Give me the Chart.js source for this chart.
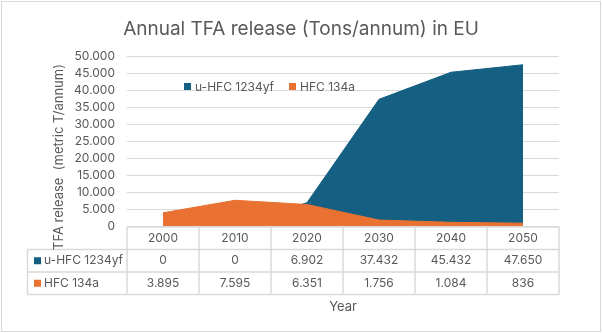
<!DOCTYPE html>
<html>
<head>
<meta charset="utf-8">
<script src="https://cdn.jsdelivr.net/npm/chart.js@4.4.1/dist/chart.umd.min.js"></script>
<style>
  html, body { margin: 0; padding: 0; background: #fff; }
  #wrap { width: 602px; height: 333px; }
</style>
</head>
<body>
<div id="wrap"><canvas id="myChart" width="602" height="333"></canvas></div>
<script>
// Chart data
var years = ['2000', '2010', '2020', '2030', '2040', '2050'];
var hfo1234yf = [0, 0, 6902, 37432, 45432, 47650];   // u-HFC 1234yf
var hfc134a = [3895, 7595, 6351, 1756, 1084, 836];  // HFC 134a
var seriesNames = ['u-HFC 1234yf', 'HFC 134a'];
var yMax = 50000;
var yStep = 5000;

var blue = '#156082';
var orange = '#E97132';
var textColor = '#595959';
var lineColor = '#D9D9D9';
var fontFamily = 'Inter, "Open Sans", sans-serif';

// 47650 -> "47.650"
function fmt(n) {
    return Math.round(n).toLocaleString('en-US').replace(/,/g, '.');
}

// Border, legend, data table and axis titles
var extras = {
    id: 'extras',
    beforeDraw: function(chart) {
        var ctx = chart.ctx;
        ctx.save();
        ctx.fillStyle = '#fff';
        ctx.fillRect(0, 0, chart.width, chart.height);
        ctx.restore();
    },
    afterDraw: function(chart) {
        var ctx = chart.ctx;
        var x = chart.scales.x;
        var area = chart.chartArea;
        var colors = [blue, orange];
        var rows = [hfo1234yf, hfc134a];

        ctx.save();
        // outer border
        ctx.strokeStyle = lineColor;
        ctx.lineWidth = 1;
        ctx.strokeRect(1.5, 1.5, chart.width - 3, chart.height - 3);

        // legend inside plot
        ctx.font = '12px ' + fontFamily;
        ctx.textBaseline = 'middle';
        ctx.textAlign = 'left';
        var lx = [184, 289];
        for (var i = 0; i < seriesNames.length; i++) {
            ctx.fillStyle = colors[i];
            ctx.fillRect(lx[i], 83, 7, 7);
            ctx.fillStyle = textColor;
            ctx.fillText(seriesNames[i], lx[i] + 11, 87);
        }

        // data table
        var half = (x.getPixelForValue(1) - x.getPixelForValue(0)) / 2;
        var top = area.bottom + 1;
        var rowH = 22.5;
        var labelLeft = 27.5;
        ctx.strokeStyle = lineColor;
        ctx.lineWidth = 1.5;
        ctx.beginPath();
        // horizontal lines
        ctx.moveTo(area.left, top);
        ctx.lineTo(area.right, top);
        for (var r = 1; r <= 3; r++) {
            ctx.moveTo(labelLeft, top + r * rowH);
            ctx.lineTo(area.right, top + r * rowH);
        }
        // vertical lines
        for (var c = 0; c <= years.length; c++) {
            var cx = c < years.length ? x.getPixelForValue(c) - half : x.getPixelForValue(years.length - 1) + half;
            ctx.moveTo(cx, top);
            ctx.lineTo(cx, top + 3 * rowH);
        }
        ctx.moveTo(labelLeft, top + rowH);
        ctx.lineTo(labelLeft, top + 3 * rowH);
        ctx.stroke();

        ctx.font = '12px ' + fontFamily;
        ctx.textAlign = 'center';
        ctx.fillStyle = textColor;
        for (var j = 0; j < years.length; j++) {
            var px = x.getPixelForValue(j);
            ctx.fillText(years[j], px, top + rowH / 2);
            for (var k = 0; k < rows.length; k++) {
                ctx.fillText(fmt(rows[k][j]), px, top + rowH * (k + 1.5));
            }
        }
        ctx.textAlign = 'left';
        for (var s = 0; s < seriesNames.length; s++) {
            var cy = top + rowH * (s + 1.5);
            ctx.fillStyle = colors[s];
            ctx.fillRect(34, cy - 3.5, 7, 7);
            ctx.fillStyle = textColor;
            ctx.fillText(seriesNames[s], 44, cy);
        }

        // axis titles
        ctx.font = '13px ' + fontFamily;
        ctx.textAlign = 'center';
        ctx.fillText('Year', (area.left + area.right) / 2, 307);
        ctx.translate(59, 157);
        ctx.rotate(-Math.PI / 2);
        ctx.fillText('TFA release  (metric T/annum)', 0, 0);
        ctx.restore();
    }
};

var ctx = document.getElementById('myChart').getContext('2d');
var myChart = new Chart(ctx, {
    type: 'line',
    data: {
        labels: years,
        datasets: [{
            label: seriesNames[0],
            data: hfo1234yf,
            backgroundColor: blue,
            borderColor: blue,
            borderWidth: 1,
            fill: 'origin',
            pointRadius: 0,
            tension: 0,
            order: 1
        }, {
            label: seriesNames[1],
            data: hfc134a,
            backgroundColor: orange,
            borderColor: orange,
            borderWidth: 1,
            fill: 'origin',
            pointRadius: 0,
            tension: 0,
            order: 0
        }]
    },
    options: {
        responsive: false,
        animation: false,
        layout: { padding: { left: 43, right: 43, top: 0, bottom: 0 } },
        plugins: {
            legend: { display: false },
            tooltip: { enabled: false },
            title: {
                display: true,
                text: 'Annual TFA release (Tons/annum) in EU',
                color: textColor,
                font: { family: fontFamily, size: 19, weight: 'normal' },
                padding: { top: 18, bottom: 16 }
            }
        },
        scales: {
            x: {
                offset: true,
                grid: { display: false },
                border: { display: false },
                ticks: { display: false },
                afterFit: function(scale) { scale.height = 107; }
            },
            y: {
                min: 0,
                max: yMax,
                grid: { color: lineColor, lineWidth: 1, drawTicks: false },
                border: { display: false },
                ticks: {
                    stepSize: yStep,
                    autoSkip: false,
                    padding: 12,
                    color: textColor,
                    font: { family: fontFamily, size: 12 },
                    callback: function(v) { return fmt(v); }
                },
                afterFit: function(scale) { scale.width = 84; }
            }
        }
    },
    plugins: [extras]
});
</script>
</body>
</html>
